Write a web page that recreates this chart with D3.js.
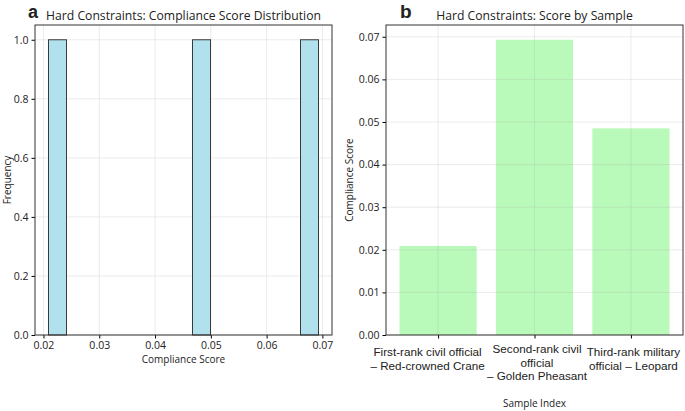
<!DOCTYPE html>
<html>
<head>
<meta charset="utf-8">
<script src="https://cdn.jsdelivr.net/npm/d3@7"></script>
<style>
  body { margin: 0; background: #fff; }
  svg { display: block; }
  text { font-family: "Open Sans", sans-serif; fill: #222; }
</style>
</head>
<body>
<div id="chart"></div>
<script>
// data //

const sampleNames = [
  ["First-rank civil official", "– Red-crowned Crane"],
  ["Second-rank civil", "official", "– Golden Pheasant"],
  ["Third-rank military", "official – Leopard"]
];
const scores = [0.0209, 0.0693, 0.0485];
const histTicksX = [0.02, 0.03, 0.04, 0.05, 0.06, 0.07];
const histTicksY = [0.0, 0.2, 0.4, 0.6, 0.8, 1.0];
const barTicksY = [0.00, 0.01, 0.02, 0.03, 0.04, 0.05, 0.06, 0.07];
const nBins = 15;

const W = 685, H = 411;

const svg = d3.select("#chart")
  .append("svg")
    .attr("width", W)
    .attr("height", H);

// panel a : histogram //

const a = { left: 35, right: 332, top: 25, bottom: 335 };

const lo = d3.min(scores), hi = d3.max(scores);
const step = (hi - lo) / nBins;
const thresholds = d3.range(1, nBins).map(i => lo + i * step);
const bins = d3.bin().domain([lo, hi]).thresholds(thresholds)(scores);

const pad = (hi - lo) * 0.05;
const xA = d3.scaleLinear().domain([lo - pad, hi + pad]).range([a.left, a.right]);
const yA = d3.scaleLinear().domain([0, 1.05]).range([a.bottom, a.top]);

const gA = svg.append("g");

// grid
gA.selectAll(".vgrid")
  .data(histTicksX)
  .join("line")
  .attr("x1", d => xA(d)).attr("x2", d => xA(d))
  .attr("y1", a.top).attr("y2", a.bottom)
  .attr("stroke", "#e6e6e6").attr("stroke-width", 0.8);
gA.selectAll(".hgrid")
  .data(histTicksY)
  .join("line")
  .attr("x1", a.left).attr("x2", a.right)
  .attr("y1", d => yA(d)).attr("y2", d => yA(d))
  .attr("stroke", "#e6e6e6").attr("stroke-width", 0.8);

// bars
gA.selectAll(".hbar")
  .data(bins.filter(b => b.length > 0))
  .join("rect")
  .attr("x", d => xA(d.x0))
  .attr("width", d => xA(d.x1) - xA(d.x0))
  .attr("y", d => yA(d.length))
  .attr("height", d => yA(0) - yA(d.length))
  .attr("fill", "#b2e1ee")
  .attr("stroke", "#3a3a3a")
  .attr("stroke-width", 1);

// axes
gA.append("g")
  .attr("transform", `translate(0,${a.bottom})`)
  .call(d3.axisBottom(xA).tickValues(histTicksX).tickFormat(d3.format(".2f")).tickSizeOuter(0).tickSize(3.5).tickPadding(3))
  .call(g => g.select(".domain").remove())
  .selectAll("text").style("font-size", "10.5px").style("font-family", "Open Sans").attr("fill", "#222");
gA.append("g")
  .attr("transform", `translate(${a.left},0)`)
  .call(d3.axisLeft(yA).tickValues(histTicksY).tickFormat(d3.format(".1f")).tickSizeOuter(0).tickSize(3.5).tickPadding(3))
  .call(g => g.select(".domain").remove())
  .selectAll("text").style("font-size", "10.5px").style("font-family", "Open Sans").attr("fill", "#222");

gA.append("rect")
  .attr("x", a.left).attr("y", a.top)
  .attr("width", a.right - a.left).attr("height", a.bottom - a.top)
  .attr("fill", "none").attr("stroke", "#333").attr("stroke-width", 1);

gA.append("text")
  .attr("x", (a.left + a.right) / 2).attr("y", 20)
  .attr("text-anchor", "middle")
  .style("font-size", "12.2px")
  .text("Hard Constraints: Compliance Score Distribution");
gA.append("text")
  .attr("x", 28).attr("y", 18)
  .style("font-size", "18px").style("font-weight", "bold")
  .style("font-family", "Liberation Sans")
  .text("a");
gA.append("text")
  .attr("x", (a.left + a.right) / 2).attr("y", 363)
  .attr("text-anchor", "middle")
  .style("font-size", "10px")
  .text("Compliance Score");
gA.append("text")
  .attr("transform", `translate(10.5,${(a.top + a.bottom) / 2}) rotate(-90)`)
  .attr("text-anchor", "middle")
  .style("font-size", "10px")
  .text("Frequency");

// panel b : bar chart //

const b = { left: 386, right: 683, top: 25, bottom: 335 };

const xB = d3.scaleLinear().domain([-0.54, 2.54]).range([b.left, b.right]);
const yB = d3.scaleLinear().domain([0, d3.max(scores) * 1.05]).range([b.bottom, b.top]);

const gB = svg.append("g");

gB.selectAll(".bar")
  .data(scores)
  .join("rect")
  .attr("x", (d, i) => xB(i - 0.4))
  .attr("width", xB(0.8) - xB(0))
  .attr("y", d => yB(d))
  .attr("height", d => yB(0) - yB(d))
  .attr("fill", "#b9f9b9");

// grid drawn over the bars
gB.selectAll(".vgrid")
  .data(d3.range(scores.length))
  .join("line")
  .attr("x1", d => xB(d)).attr("x2", d => xB(d))
  .attr("y1", b.top).attr("y2", b.bottom)
  .attr("stroke", "#aaa").attr("stroke-opacity", 0.3).attr("stroke-width", 0.8);
gB.selectAll(".hgrid")
  .data(barTicksY)
  .join("line")
  .attr("x1", b.left).attr("x2", b.right)
  .attr("y1", d => yB(d)).attr("y2", d => yB(d))
  .attr("stroke", "#aaa").attr("stroke-opacity", 0.3).attr("stroke-width", 0.8);

gB.append("g")
  .attr("transform", `translate(${b.left},0)`)
  .call(d3.axisLeft(yB).tickValues(barTicksY).tickFormat(d3.format(".2f")).tickSizeOuter(0).tickSize(3.5).tickPadding(3))
  .call(g => g.select(".domain").remove())
  .selectAll("text").style("font-size", "10.5px").style("font-family", "Open Sans").attr("fill", "#222");

const xAxisB = gB.append("g")
  .attr("transform", `translate(0,${b.bottom})`)
  .call(d3.axisBottom(xB).tickValues(d3.range(scores.length)).tickFormat("").tickSizeOuter(0).tickSize(3.5))
  .call(g => g.select(".domain").remove());

xAxisB.selectAll(".tick")
  .append("text")
  .attr("text-anchor", "middle")
  .attr("fill", "#111")
  .style("font-family", "Liberation Sans")
  .style("font-size", "11.7px")
  .each(function (d) {
    const lines = sampleNames[d];
    const y0 = lines.length > 2 ? 18 : 21;
    const dx = d === 0 ? -11 : 2;
    d3.select(this).selectAll("tspan")
      .data(lines)
      .join("tspan")
      .attr("x", dx)
      .attr("y", (t, j) => y0 + j * 13.7)
      .text(t => t);
  });

gB.append("rect")
  .attr("x", b.left).attr("y", b.top)
  .attr("width", b.right - b.left).attr("height", b.bottom - b.top)
  .attr("fill", "none").attr("stroke", "#333").attr("stroke-width", 1);

gB.append("text")
  .attr("x", (b.left + b.right) / 2).attr("y", 20)
  .attr("text-anchor", "middle")
  .style("font-size", "12.2px")
  .text("Hard Constraints: Score by Sample");
gB.append("text")
  .attr("x", 400).attr("y", 18)
  .style("font-size", "19px").style("font-weight", "bold")
  .style("font-family", "Liberation Sans")
  .text("b");
gB.append("text")
  .attr("x", (b.left + b.right) / 2).attr("y", 407)
  .attr("text-anchor", "middle")
  .style("font-size", "10px")
  .text("Sample Index");
gB.append("text")
  .attr("transform", `translate(353,${(b.top + b.bottom) / 2}) rotate(-90)`)
  .attr("text-anchor", "middle")
  .style("font-size", "10px")
  .text("Compliance Score");
</script>
</body>
</html>
